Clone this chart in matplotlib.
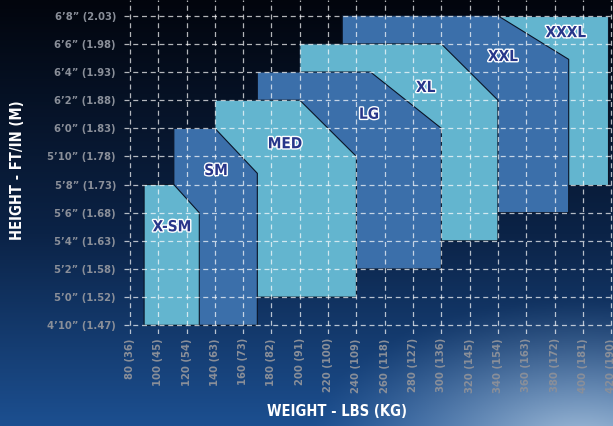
import matplotlib
matplotlib.use("Agg")
import matplotlib.pyplot as plt
import matplotlib.patheffects as pe
from matplotlib.patches import Polygon
from matplotlib.colors import to_rgb
import numpy as np

plt.rcParams['font.stretch'] = 'condensed'

# size chart: weight (lbs) and height (inches) corners of each size block
sizes = ["X-SM", "SM", "MED", "LG", "XL", "XXL", "XXXL"]
w_min = [90, 111, 140, 170, 200, 230, 300]
w_flat = [111, 140, 200, 250, 300, 340, 418]
w_max = [129, 170, 240, 300, 340, 390, 418]
h_max = [68, 72, 74, 76, 78, 80, 80]
h_knee = [66, 68.8, 70, 72, 74, 76.9, 80]
h_min = [58, 58, 60, 62, 64, 66, 68]
label_w = [109.7, 140.8, 189.5, 248.9, 289, 343.6, 388]
label_h = [65.0, 69.0, 70.9, 73.0, 74.9, 77.1, 78.8]

weights = list(range(80, 421, 20))
kgs = [36, 45, 54, 63, 73, 82, 91, 100, 109, 118, 127, 136, 145, 154, 163, 172, 181, 190]
heights = list(range(58, 81, 2))
height_labels = ["4’10” (1.47)", "5’0” (1.52)", "5’2” (1.58)", "5’4” (1.63)",
                 "5’6” (1.68)", "5’8” (1.73)", "5’10” (1.78)", "6’0” (1.83)",
                 "6’2” (1.88)", "6’4” (1.93)", "6’6” (1.98)", "6’8” (2.03)"]

light = "#63b5cf"
dark = "#3b6faa"
fills = [light, dark, light, dark, light, dark, light]

fig = plt.figure(figsize=(6.13, 4.26), dpi=100)

# background gradient
bg = fig.add_axes([0, 0, 1, 1], zorder=-5)
bg.axis("off")
ny, nx = 200, 300
yy, xx = np.mgrid[0:1:ny * 1j, 0:1:nx * 1j]
top = np.array(to_rgb("#02050d"))
mid = np.array(to_rgb("#0b2347"))
bot = np.array(to_rgb("#1c4f90"))
t = yy[..., None]
img = np.where(t < 0.55, top + (mid - top) * (t / 0.55),
               mid + (bot - mid) * ((t - 0.55) / 0.45))
d = np.sqrt(((xx - 0.95) / 0.45) ** 2 + ((yy - 1.05) / 0.35) ** 2)
glow = np.clip(1 - d, 0, 1)[..., None] ** 1.3
img = img + (np.array(to_rgb("#a8c2dc")) - img) * glow
bg.imshow(img, aspect="auto", extent=[0, 1, 0, 1])

ax = fig.add_axes([0.2016, 0.216, 0.7977, 0.784])
ax.set_facecolor("none")

for i in range(len(sizes) - 1, -1, -1):
    verts = [(w_min[i], h_min[i]), (w_min[i], h_max[i]), (w_flat[i], h_max[i]),
             (w_max[i], h_knee[i]), (w_max[i], h_min[i])]
    ax.add_patch(Polygon(verts, closed=True, facecolor=fills[i],
                         edgecolor="#0a1426", linewidth=0.8, zorder=1))
    ax.text(label_w[i], label_h[i], sizes[i], ha="center", va="center",
            fontsize=11, fontweight="bold", color="#27368a", zorder=5,
            path_effects=[pe.withStroke(linewidth=2, foreground="white")])

ax.set_xlim(75.5, 421)
ax.set_ylim(57.38, 81.12)
ax.set_xticks(weights)
ax.set_xticklabels([f"{w} ({k})" for w, k in zip(weights, kgs)], rotation=90,
                   va="top", ha="center")
ax.set_yticks(heights)
ax.set_yticklabels(height_labels)
ax.tick_params(length=0, labelcolor="#8a8f99", labelsize=8)
ax.tick_params(axis="y", pad=5.5)
ax.tick_params(axis="x", pad=3)
for lab in ax.get_xticklabels() + ax.get_yticklabels():
    lab.set_fontweight("bold")
ax.set_axisbelow(False)
ax.grid(True, color="white", alpha=0.7, linestyle=(0, (4, 3)), linewidth=0.9, zorder=3)
for s in ax.spines.values():
    s.set_visible(False)

fig.text(0.028, 0.60, "HEIGHT - FT/IN (M)", rotation=90, ha="center", va="center",
         color="white", fontsize=10.5, fontweight="bold")
fig.text(0.55, 0.035, "WEIGHT - LBS (KG)", ha="center", va="center",
         color="white", fontsize=10.5, fontweight="bold")

fig.savefig("out.png", dpi=100)
